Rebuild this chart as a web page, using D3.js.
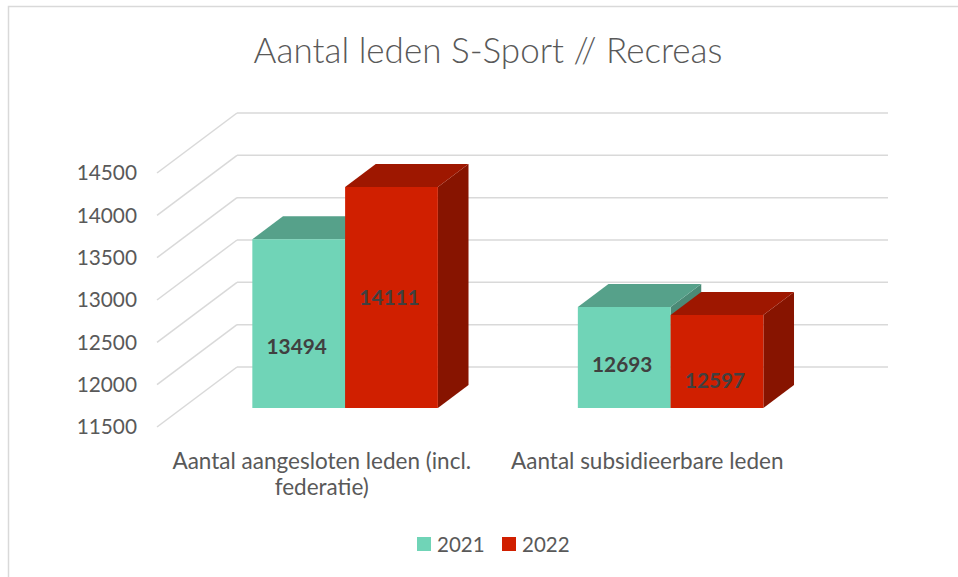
<!DOCTYPE html>
<html>
<head>
<meta charset="utf-8">
<script src="https://cdn.jsdelivr.net/npm/d3@7"></script>
<style>
  body { margin: 0; background: #fff; }
  svg { display: block; font-family: Lato, "Open Sans", sans-serif; }
</style>
</head>
<body>
<svg id="chart" width="958" height="577"></svg>
<script>
// chart data
const categories = ["Aantal aangesloten leden (incl. federatie)", "Aantal subsidieerbare leden"];
const categoryLines = [["Aantal aangesloten leden (incl.", "federatie)"], ["Aantal subsidieerbare leden"]];
const seriesNames = ["2021", "2022"];
const values2021 = [13494, 12693];
const values2022 = [14111, 12597];
const yTicks = [11500, 12000, 12500, 13000, 13500, 14000, 14500];
// where the data labels sit (value units), as placed in the original
const labelAt2021 = [12220, 12010];
const labelAt2022 = [12800, 11820];

const colors = {
  "2021": { front: "#70d4b7", top: "#56a18a", side: "#4b8a76" },
  "2022": { front: "#d01f00", top: "#9e1700", side: "#871400" }
};

const svg = d3.select("#chart");

// frame
svg.append("rect")
  .attr("x", 8.5).attr("y", 6.5)
  .attr("width", 980).attr("height", 600)
  .attr("fill", "none")
  .attr("stroke", "#d9d9d9")
  .attr("stroke-width", 1.5);

svg.append("text")
  .attr("x", 488)
  .attr("y", 63)
  .attr("text-anchor", "middle")
  .attr("font-size", "35px")
  .attr("font-weight", 300)
  .attr("fill", "#595959")
  .text("Aantal leden S-Sport // Recreas");

// front plane + depth vector
const x0 = d3.scaleBand()
  .domain(categories)
  .range([157, 808])
  .paddingInner(0.43)
  .paddingOuter(0.215);

const x1 = d3.scaleBand()
  .domain(seriesNames)
  .range([0, x0.bandwidth()]);

const y = d3.scaleLinear()
  .domain([11500, 14500])
  .range([427, 173]);

const depth = { dx: 80, dy: -60 };
const barDepth = [0.317, 0.7];

function proj(px, v, d) {
  return [px + depth.dx * d, y(v) + depth.dy * d];
}

const line = d3.line();

// back wall gridlines
svg.append("g")
  .selectAll("path")
  .data(yTicks)
  .join("path")
  .attr("d", v => line([proj(157, v, 1), proj(808, v, 1)]))
  .attr("stroke", "#d9d9d9")
  .attr("stroke-width", 1.5)
  .attr("fill", "none");

// side wall gridlines
svg.append("g")
  .selectAll("path")
  .data(yTicks)
  .join("path")
  .attr("d", v => line([proj(157, v, 0), proj(157, v, 1)]))
  .attr("stroke", "#d9d9d9")
  .attr("stroke-width", 1.5)
  .attr("fill", "none");

// y labels
svg.append("g")
  .selectAll("text")
  .data(yTicks)
  .join("text")
  .attr("x", 137)
  .attr("y", v => y(v))
  .attr("dy", "0.35em")
  .attr("text-anchor", "end")
  .attr("font-size", "20.8px")
  .attr("fill", "#595959")
  .text(v => v);

// bars
const bars = [];
categories.forEach((c, i) => {
  bars.push({ cat: c, key: "2021", value: values2021[i], labelAt: labelAt2021[i] });
  bars.push({ cat: c, key: "2022", value: values2022[i], labelAt: labelAt2022[i] });
});

const [d0, d1] = barDepth;
const poly = pts => "M" + pts.map(p => p.join(",")).join("L") + "Z";

const barG = svg.append("g")
  .selectAll("g")
  .data(bars)
  .join("g");

barG.each(function (b) {
  const g = d3.select(this);
  const xl = x0(b.cat) + x1(b.key);
  const xr = xl + x1.bandwidth();
  const base = y.domain()[0];
  const col = colors[b.key];
  // right side
  g.append("path")
    .attr("d", poly([proj(xr, base, d0), proj(xr, base, d1), proj(xr, b.value, d1), proj(xr, b.value, d0)]))
    .attr("fill", col.side);
  // top
  g.append("path")
    .attr("d", poly([proj(xl, b.value, d0), proj(xr, b.value, d0), proj(xr, b.value, d1), proj(xl, b.value, d1)]))
    .attr("fill", col.top);
  // front
  g.append("path")
    .attr("d", poly([proj(xl, base, d0), proj(xr, base, d0), proj(xr, b.value, d0), proj(xl, b.value, d0)]))
    .attr("fill", col.front);
});

// data labels
svg.append("g")
  .selectAll("text")
  .data(bars)
  .join("text")
  .attr("x", b => proj(x0(b.cat) + x1(b.key) + x1.bandwidth() / 2, b.labelAt, d0)[0] - 2)
  .attr("y", b => proj(0, b.labelAt, d0)[1])
  .attr("dy", "0.35em")
  .attr("text-anchor", "middle")
  .attr("font-size", "20.8px")
  .attr("font-weight", "bold")
  .attr("fill", "#404040")
  .text(b => b.value);

// category labels
svg.append("g")
  .selectAll("text")
  .data(categories)
  .join("text")
  .attr("x", (c, i) => x0(c) + x0.bandwidth() / 2 + 2)
  .attr("y", 469)
  .attr("text-anchor", "middle")
  .attr("font-size", "22.5px")
  .attr("fill", "#595959")
  .each(function (c, i) {
    const t = d3.select(this);
    categoryLines[i].forEach((l, j) => {
      t.append("tspan")
        .attr("x", t.attr("x"))
        .attr("dy", j === 0 ? 0 : 26)
        .text(l);
    });
  });

// legend
const legend = svg.append("g")
  .selectAll("g")
  .data(seriesNames)
  .join("g")
  .attr("transform", (d, i) => `translate(${417 + i * 85},537)`);

legend.append("rect")
  .attr("width", 14)
  .attr("height", 14)
  .attr("fill", d => colors[d].front);

legend.append("text")
  .attr("x", 20)
  .attr("y", 15)
  .attr("font-size", "20.5px")
  .attr("fill", "#595959")
  .text(d => d);
</script>
</body>
</html>
